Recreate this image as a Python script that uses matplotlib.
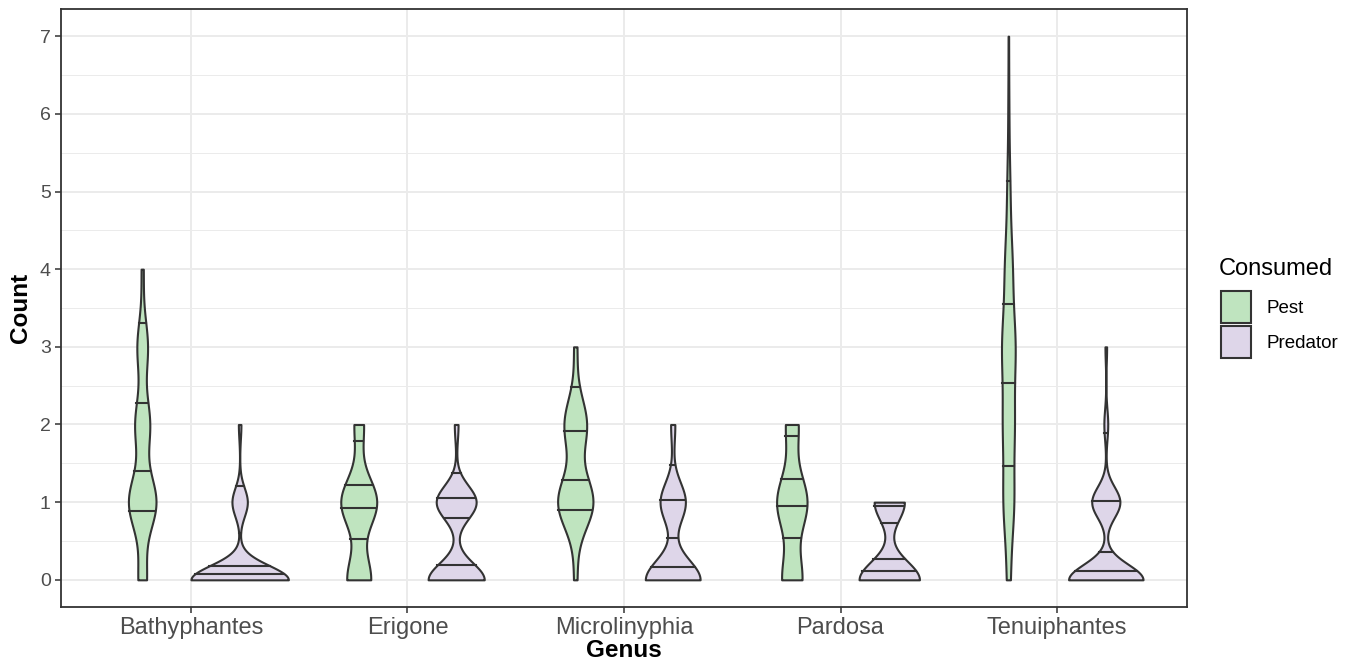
import numpy as np
import matplotlib.pyplot as plt
from matplotlib.patches import Patch

plt.rcParams['font.family'] = ['Liberation Sans', 'DejaVu Sans']

genera = ['Bathyphantes', 'Erigone', 'Microlinyphia', 'Pardosa', 'Tenuiphantes']
groups = ['Pest', 'Predator']
# number of spiders with 0, 1, 2, ... items consumed
pest_counts = [[4, 13, 7, 5, 1],
               [10, 15, 4],
               [1, 11, 7, 1],
               [8, 12, 5],
               [14, 42, 44, 52, 30, 12, 4, 2]]
pred_counts = [[38, 6, 1],
               [45, 32, 3],
               [26, 12, 2],
               [14, 7],
               [135, 51, 7, 3]]
quantiles = [0.25, 0.5, 0.75, 0.95]
fills = {'Pest': '#BFE4BF', 'Predator': '#DED6E9'}
edge = '#333333'


def bw_nrd0(x):
    hi = np.std(x, ddof=1)
    q75, q25 = np.percentile(x, [75, 25])
    lo = min(hi, (q75 - q25) / 1.34)
    if lo == 0:
        lo = hi or abs(x[0]) or 1.0
    return 0.9 * lo * len(x) ** -0.2


def violin_density(counts):
    x = np.repeat(np.arange(len(counts)), counts).astype(float)
    bw = bw_nrd0(x)
    y = np.linspace(x.min(), x.max(), 512)
    z = (y[:, None] - x[None, :]) / bw
    d = np.exp(-0.5 * z ** 2).sum(axis=1) / (len(x) * bw * np.sqrt(2 * np.pi))
    return y, d


dens = {}
for i, g in enumerate(genera):
    dens[(g, 'Pest')] = violin_density(pest_counts[i])
    dens[(g, 'Predator')] = violin_density(pred_counts[i])
dmax = max(d.max() for y, d in dens.values())

fig = plt.figure(figsize=(13.57, 6.66), dpi=100)
ax = fig.add_axes([61 / 1357, 1 - 607 / 666, (1187 - 61) / 1357, (607 - 9) / 666])

for i, g in enumerate(genera):
    for j, grp in enumerate(groups):
        y, d = dens[(g, grp)]
        xc = i + 1 + (j - 0.5) * 0.45
        w = d / dmax * 0.225
        ax.fill_betweenx(y, xc - w, xc + w, facecolor=fills[grp],
                         edgecolor=edge, lw=1.5, zorder=3)
        # quantile lines from the density, like ggplot draw_quantiles
        cdf = np.cumsum(d) / d.sum()
        qy = np.interp(quantiles, cdf, y)
        qw = np.interp(qy, y, w)
        for yy, ww in zip(qy, qw):
            ax.plot([xc - ww, xc + ww], [yy, yy], color=edge, lw=1.5, zorder=4)

ax.set_xlim(0.4, 5.6)
ax.set_ylim(-0.35, 7.35)
ax.set_xticks(range(1, len(genera) + 1))
ax.set_xticklabels(genera)
ax.set_yticks(range(8))
ax.set_yticks(np.arange(0.5, 7, 1), minor=True)
ax.grid(which='major', color='#EBEBEB', lw=1.4)
ax.grid(which='minor', axis='y', color='#EBEBEB', lw=0.7)
ax.set_axisbelow(True)
for s in ax.spines.values():
    s.set_color(edge)
    s.set_linewidth(1.3)
ax.tick_params(which='major', colors=edge, labelcolor='#4D4D4D', length=4.3, width=1.1)
ax.tick_params(which='minor', length=0)
ax.tick_params(axis='x', labelsize=17, pad=3)
ax.tick_params(axis='y', labelsize=14, pad=3)
ax.set_xlabel('Genus', fontsize=17.5, fontweight='bold', labelpad=0)
ax.set_ylabel('Count', fontsize=17.5, fontweight='bold', labelpad=6)

fig.text(1219 / 1357, 1 - 269 / 666, 'Consumed', fontsize=17, va='center', ha='left')
handles = [Patch(facecolor=fills[g], edgecolor=edge, lw=1.5, label=g) for g in groups]
fig.legend(handles=handles, loc='upper left',
           bbox_to_anchor=(1221 / 1357, 1 - 291 / 666), frameon=False,
           fontsize=13.5, handlelength=1.6, handleheight=2.25,
           handletextpad=0.85, labelspacing=0.15,
           borderaxespad=0, borderpad=0)

fig.savefig('out.png', dpi=100)
